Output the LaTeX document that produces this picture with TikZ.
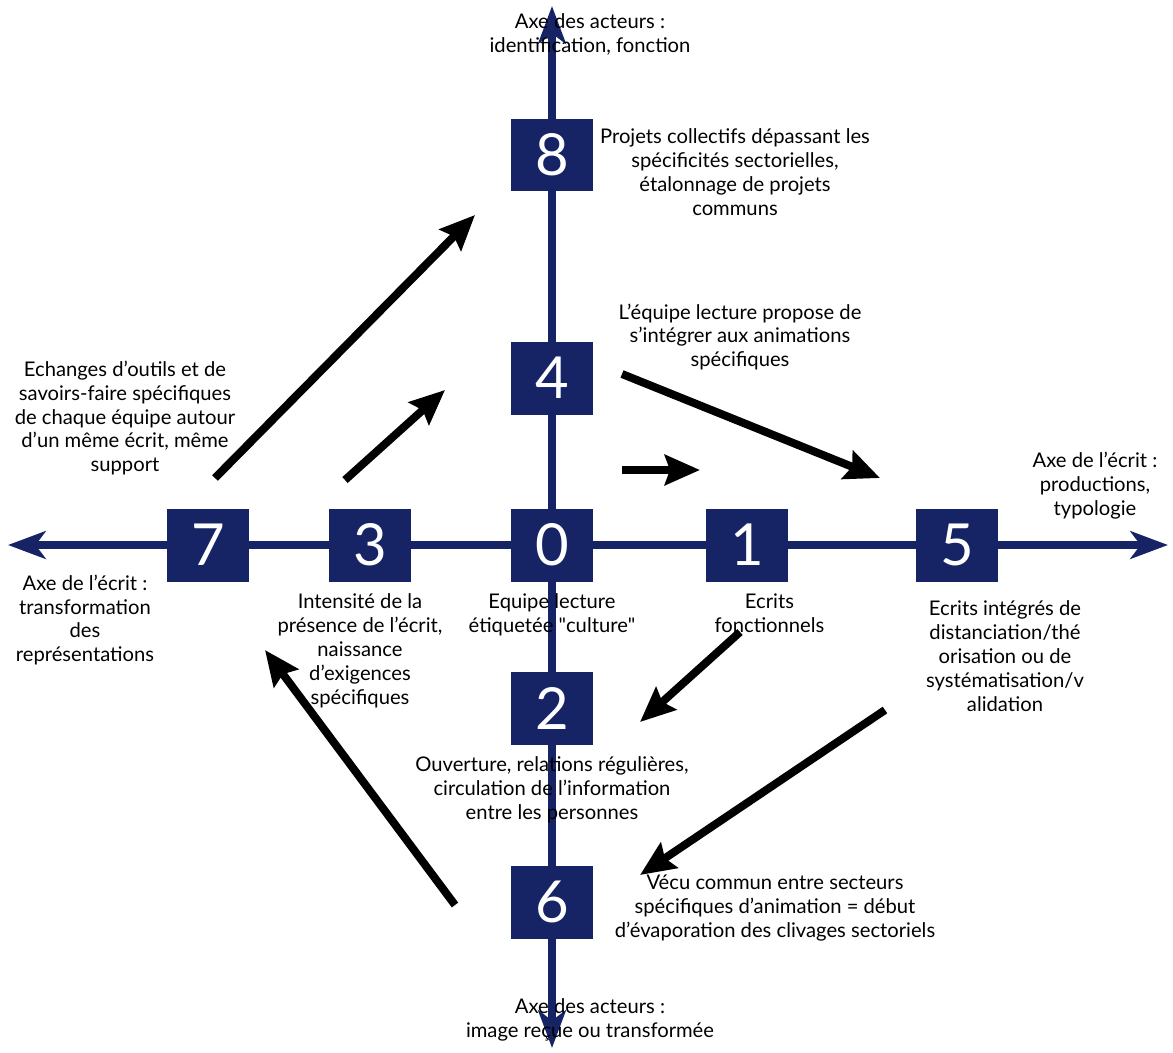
\documentclass[tikz,border=0pt]{standalone}
\usepackage{fontspec}
\setmainfont{Lato}
\usetikzlibrary{arrows.meta, positioning, backgrounds}
\definecolor{navy}{RGB}{22,36,102}
\tikzset{
  %% Numbered square on an axis
  numbox/.style={
    rectangle, fill=navy, text=white,
    minimum width=1.64cm, minimum height=1.46cm,
    inner sep=0pt, font=\fontsize{33}{33}\selectfont
  },
  %% Text beside a square
  lbl/.style={
    align=center, inner sep=1pt,
    font=\fontsize{11.5}{13.6}\selectfont
  },
  %% Axis with a head at both ends
  axis/.style={{Stealth[length=0.75cm,width=0.55cm,inset=0.2cm]}-%
               {Stealth[length=0.75cm,width=0.55cm,inset=0.2cm]},
               draw=navy, line width=0.15cm},
  %% Black transition arrow
  jump/.style={-{Stealth[length=0.7cm,width=0.6cm,inset=0.1cm]},
               draw=black, line width=0.16cm},
}

\begin{document}
\begin{tikzpicture}[x=0.02cm, y=-0.02cm, node distance=0.2cm]
  \useasboundingbox (0,0) rectangle (1173,1052);

  %% Axis ends
  \coordinate (axL) at (8,545);
  \coordinate (axR) at (1168,545);
  \coordinate (axT) at (552,6);
  \coordinate (axB) at (552,1048);

  %% Numbered squares
  \node[numbox] (n0) at (552,545) {0};
  \node[numbox] (n1) at (747,545) {1};
  \node[numbox] (n5) at (957,545) {5};
  \node[numbox] (n3) at (370,545) {3};
  \node[numbox] (n7) at (208,545) {7};
  \node[numbox] (n4) at (552,378) {4};
  \node[numbox] (n8) at (552,155) {8};
  \node[numbox] (n2) at (552,708) {2};
  \node[numbox] (n6) at (552,902) {6};

  %% Labels
  \node[lbl] (axtop) at (590,34)
       {Axe des acteurs :\\identification, fonction};
  \node[lbl] (axbot) at (590,1020)
       {Axe des acteurs :\\image reçue ou transformée};
  \node[lbl] (axright) at (1095,486)
       {Axe de l'écrit :\\productions,\\typologie};
  \node[lbl] (axleft) at (85,620)
       {Axe de l'écrit :\\transformation\\des\\représentations};

  \node[lbl] (l8) at (735,172)
       {Projets collectifs dépassant les\\spécificités sectorielles,\\%
        étalonnage de projets\\communs};
  \node[lbl] (l4) at (740,337)
       {L'équipe lecture propose de\\s'intégrer aux animations\\spécifiques};
  \node[lbl] (l7) at (125,418)
       {Echanges d'outils et de\\savoirs-faire spécifiques\\%
        de chaque équipe autour\\d'un même écrit, même\\support};
  \node[lbl, below=0.2cm of n0] (l0)
       {Equipe lecture\\étiquetée \textquotedbl culture\textquotedbl};
  \node[lbl, below=0.2cm of n3, xshift=-0.2cm] (l3)
       {Intensité de la\\présence de l'écrit,\\naissance\\%
        d'exigences\\spécifiques};
  \node[lbl, below=0.2cm of n1, xshift=0.45cm] (l1)
       {Ecrits\\fonctionnels};
  \node[lbl] (l5) at (1005,656)
       {Ecrits intégrés de\\distanciation/thé\\orisation ou de\\%
        systématisation/v\\alidation};
  \node[lbl, below=0.2cm of n2] (l2)
       {Ouverture, relations régulières,\\circulation de l'information\\%
        entre les personnes};
  \node[lbl] (l6) at (775,908)
       {Vécu commun entre secteurs\\spécifiques d'animation = début\\%
        d'évaporation des clivages sectoriels};

  %% Arrow ends
  \coordinate (s78) at (215,478);  \coordinate (e78) at (475,215);
  \coordinate (s34) at (345,480);  \coordinate (e34) at (445,390);
  \coordinate (s45) at (622,374);  \coordinate (e45) at (880,478);
  \coordinate (s01) at (622,470);  \coordinate (e01) at (700,470);
  \coordinate (s12) at (740,632);  \coordinate (e12) at (640,722);
  \coordinate (s56) at (885,710);  \coordinate (e56) at (640,875);
  \coordinate (s67) at (455,905);  \coordinate (e67) at (265,650);

  %% Axes
  \begin{scope}[on background layer]
    \draw[axis] (axL) -- (axR);
    \draw[axis] (axB) -- (axT);
  \end{scope}

  %% Transitions
  \foreach \a/\b in {s78/e78, s34/e34, s45/e45, s01/e01,
                     s12/e12, s56/e56, s67/e67}
    \draw[jump] (\a) -- (\b);

\end{tikzpicture}
\end{document}
